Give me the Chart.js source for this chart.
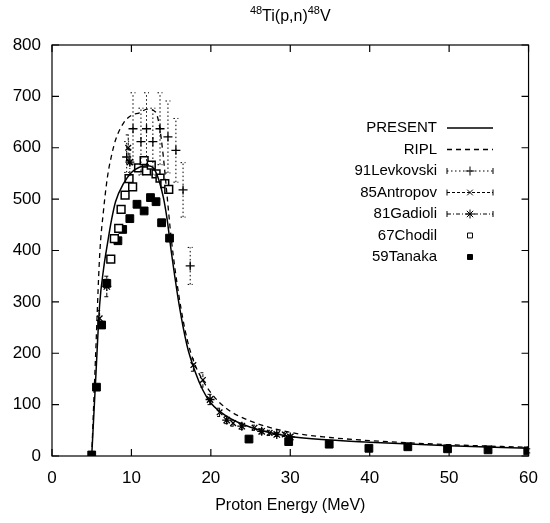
<!DOCTYPE html>
<html>
<head>
<meta charset="utf-8">
<script src="https://cdn.jsdelivr.net/npm/chart.js@4.4.1/dist/chart.umd.min.js"></script>
<style>
  body { margin: 0; background: #fff; }
</style>
</head>
<body>
<canvas id="xsChart" width="550" height="523"></canvas>
<script>
// Proton energy (MeV) and cross section values
const presentE  = [5, 5.5, 6, 6.5, 7, 7.5, 8, 9, 10, 11, 12, 13, 14, 14.5, 15, 16, 17, 18, 19, 20, 22, 25, 30, 35, 40, 50, 60];
const presentXS = [0, 150, 295, 365, 415, 460, 495, 530, 552, 562, 565, 555, 505, 460, 400, 295, 215, 165, 128, 103, 77, 56, 38, 31, 27, 20, 15];

const riplE  = [5, 5.5, 6, 6.5, 7, 7.5, 8, 9, 10, 11, 12, 13, 13.5, 14, 14.5, 15, 16, 17, 18, 19, 20, 22, 25, 30, 35, 40, 50, 60];
const riplXS = [0, 200, 390, 480, 545, 585, 615, 648, 663, 668, 675, 670, 645, 585, 505, 425, 310, 228, 178, 147, 123, 92, 68, 46, 36, 30, 22, 17];

const levE   = [9.4, 10.2, 11.2, 11.9, 12.7, 13.6, 14.6, 15.6, 16.5, 17.4];
const levXS  = [582, 637, 612, 637, 612, 637, 621, 595, 518, 370];
const levErr = [30, 70, 65, 70, 65, 70, 70, 62, 53, 36];

const antE   = [6.0, 9.6, 17.8, 19.0, 21.1, 22.8, 25.5, 27.4, 29.3];
const antXS  = [268, 600, 177, 148, 85, 64, 55, 45, 42];
const antErr = [15, 25, 12, 14, 8, 6, 5, 5, 4];

const gadE   = [6.9, 9.8, 19.9, 22.0, 23.9, 26.4, 28.3, 30.0];
const gadXS  = [330, 572, 110, 70, 58, 48, 42, 37];
const gadErr = [20, 25, 10, 7, 6, 5, 4, 4];

const choE  = [7.4, 7.85, 8.4, 8.7, 9.2, 9.7, 10.15, 10.9, 11.6, 11.9, 12.5, 13.1, 13.6, 14.2, 14.7];
const choXS = [383, 423, 443, 480, 508, 540, 524, 561, 575, 555, 566, 549, 541, 530, 519];

const tanE   = [5.0, 5.6, 6.25, 6.9, 8.3, 8.9, 9.8, 10.7, 11.6, 12.4, 13.1, 13.8, 14.8, 24.8, 29.8, 34.9, 39.9, 44.8, 49.8, 54.9, 59.9];
const tanXS  = [2, 134, 255, 336, 419, 441, 462, 490, 477, 503, 495, 454, 424, 33, 28, 23, 15, 18, 14, 12, 10];
const tanErr = [0, 0, 0, 8, 0, 0, 0, 0, 0, 0, 0, 0, 0, 6, 6, 5, 5, 5, 4, 4, 4];

const xTicks = [0, 10, 20, 30, 40, 50, 60];
const yTicks = [0, 100, 200, 300, 400, 500, 600, 700, 800];

const FONT = '"Liberation Sans", Arial, sans-serif';

function pts(xs, ys) {
    return xs.map((x, i) => ({ x: x, y: ys[i] }));
}

// Vertical error bars for the measured data
const errorBars = {
    id: 'errorBars',
    afterDatasetsDraw(chart) {
        const ctx = chart.ctx;
        const xs = chart.scales.x, ys = chart.scales.y;
        chart.data.datasets.forEach(ds => {
            if (!ds.errors) return;
            ctx.save();
            ctx.strokeStyle = '#000';
            ctx.lineWidth = 1;
            ctx.setLineDash(ds.errDash || []);
            ds.data.forEach((p, i) => {
                const e = ds.errors[i];
                if (!e) return;
                const px = xs.getPixelForValue(p.x);
                const y1 = ys.getPixelForValue(p.y - e);
                const y2 = ys.getPixelForValue(p.y + e);
                ctx.beginPath();
                ctx.moveTo(px, y1); ctx.lineTo(px, y2);
                ctx.moveTo(px - 2.5, y1); ctx.lineTo(px + 2.5, y1);
                ctx.moveTo(px - 2.5, y2); ctx.lineTo(px + 2.5, y2);
                ctx.stroke();
            });
            ctx.restore();
        });
    }
};

// Box frame with inward ticks on all four sides, plus title and key
const frame = {
    id: 'frame',
    afterDraw(chart) {
        const ctx = chart.ctx;
        const a = chart.chartArea;
        const xs = chart.scales.x, ys = chart.scales.y;
        ctx.save();
        ctx.strokeStyle = '#000';
        ctx.lineWidth = 1.2;
        ctx.strokeRect(a.left, a.top, a.right - a.left, a.bottom - a.top);
        ctx.beginPath();
        xTicks.forEach(v => {
            const px = xs.getPixelForValue(v);
            ctx.moveTo(px, a.bottom); ctx.lineTo(px, a.bottom - 7);
            ctx.moveTo(px, a.top); ctx.lineTo(px, a.top + 7);
        });
        yTicks.forEach(v => {
            const py = ys.getPixelForValue(v);
            ctx.moveTo(a.left, py); ctx.lineTo(a.left + 7, py);
            ctx.moveTo(a.right, py); ctx.lineTo(a.right - 7, py);
        });
        ctx.stroke();

        // title with superscripts
        ctx.fillStyle = '#000';
        ctx.textBaseline = 'alphabetic';
        const parts = [['48', 11, -7], ['Ti(p,n)', 16, 0], ['48', 11, -7], ['V', 16, 0]];
        let w = 0;
        parts.forEach(p => { ctx.font = p[1] + 'px ' + FONT; w += ctx.measureText(p[0]).width; });
        let tx = (a.left + a.right) / 2 - w / 2;
        parts.forEach(p => {
            ctx.font = p[1] + 'px ' + FONT;
            ctx.fillText(p[0], tx, 21 + p[2]);
            tx += ctx.measureText(p[0]).width;
        });

        // key
        const textX = 437, s1 = 447, s2 = 493;
        chart.data.datasets.forEach((ds, i) => {
            const ry = 128 + i * 21.5;
            ctx.font = '15px ' + FONT;
            ctx.textAlign = 'right';
            ctx.textBaseline = 'middle';
            ctx.fillText(ds.label, textX, ry);
            ctx.lineWidth = 1;
            if (ds.showLine) {
                ctx.lineWidth = ds.borderWidth;
                ctx.setLineDash(ds.borderDash || []);
                ctx.beginPath(); ctx.moveTo(s1, ry); ctx.lineTo(s2, ry); ctx.stroke();
                ctx.setLineDash([]);
            } else {
                if (ds.keyBar) {
                    ctx.setLineDash(ds.errDash || []);
                    ctx.beginPath();
                    ctx.moveTo(s1, ry); ctx.lineTo(s2, ry);
                    ctx.stroke();
                    ctx.setLineDash([]);
                    ctx.beginPath();
                    ctx.moveTo(s1, ry - 3); ctx.lineTo(s1, ry + 3);
                    ctx.moveTo(s2, ry - 3); ctx.lineTo(s2, ry + 3);
                    ctx.stroke();
                }
                ctx.fillStyle = ds.pointBackgroundColor;
                ctx.strokeStyle = '#000';
                Chart.helpers.drawPoint(ctx, {
                    pointStyle: ds.pointStyle,
                    radius: ds.keyBar ? ds.pointRadius : 3.5,
                    borderWidth: ds.pointBorderWidth
                }, (s1 + s2) / 2, ry);
                ctx.fillStyle = '#000';
            }
        });
        ctx.restore();
    }
};

new Chart(document.getElementById('xsChart'), {
    type: 'scatter',
    data: {
        datasets: [
            {
                label: 'PRESENT', data: pts(presentE, presentXS), showLine: true,
                borderColor: '#000', borderWidth: 1.5, pointRadius: 0,
                cubicInterpolationMode: 'monotone'
            },
            {
                label: 'RIPL', data: pts(riplE, riplXS), showLine: true,
                borderColor: '#000', borderWidth: 1.3, borderDash: [5, 4], pointRadius: 0,
                cubicInterpolationMode: 'monotone'
            },
            {
                label: '91Levkovski', data: pts(levE, levXS), errors: levErr, errDash: [1.5, 2.5], keyBar: true,
                pointStyle: 'cross', pointRadius: 4.5, pointBorderWidth: 1.3,
                pointBackgroundColor: '#000', pointBorderColor: '#000'
            },
            {
                label: '85Antropov', data: pts(antE, antXS), errors: antErr, errDash: [3, 2], keyBar: true,
                pointStyle: 'crossRot', pointRadius: 4, pointBorderWidth: 1.3,
                pointBackgroundColor: '#000', pointBorderColor: '#000'
            },
            {
                label: '81Gadioli', data: pts(gadE, gadXS), errors: gadErr, errDash: [4, 2, 1, 2], keyBar: true,
                pointStyle: 'star', pointRadius: 4.5, pointBorderWidth: 1.3,
                pointBackgroundColor: '#000', pointBorderColor: '#000'
            },
            {
                label: '67Chodil', data: pts(choE, choXS),
                pointStyle: 'rect', pointRadius: 5.5, pointBorderWidth: 1.5,
                pointBackgroundColor: '#fff', pointBorderColor: '#000'
            },
            {
                label: '59Tanaka', data: pts(tanE, tanXS), errors: tanErr, errDash: [],
                pointStyle: 'rect', pointRadius: 5.5, pointBorderWidth: 1,
                pointBackgroundColor: '#000', pointBorderColor: '#000'
            }
        ]
    },
    options: {
        responsive: false,
        animation: false,
        devicePixelRatio: 1,
        layout: { padding: { top: 45, right: 21, left: 0, bottom: 0 } },
        plugins: {
            legend: { display: false },
            tooltip: { enabled: false }
        },
        scales: {
            x: {
                type: 'linear', min: 0, max: 60,
                afterFit(scale) { scale.height = 67; },
                afterBuildTicks(scale) { scale.ticks = xTicks.map(v => ({ value: v })); },
                ticks: { color: '#000', padding: 12, font: { family: FONT, size: 17 } },
                grid: { display: false, drawTicks: false },
                border: { display: false },
                title: {
                    display: true, text: 'Proton Energy (MeV)', color: '#000',
                    font: { family: FONT, size: 16 }, padding: { top: 0, bottom: 8 }
                }
            },
            y: {
                min: 0, max: 800,
                afterFit(scale) { scale.width = 52; },
                afterBuildTicks(scale) { scale.ticks = yTicks.map(v => ({ value: v })); },
                ticks: { color: '#000', padding: 11, font: { family: FONT, size: 17 } },
                grid: { display: false, drawTicks: false },
                border: { display: false }
            }
        }
    },
    plugins: [errorBars, frame]
});
</script>
</body>
</html>
